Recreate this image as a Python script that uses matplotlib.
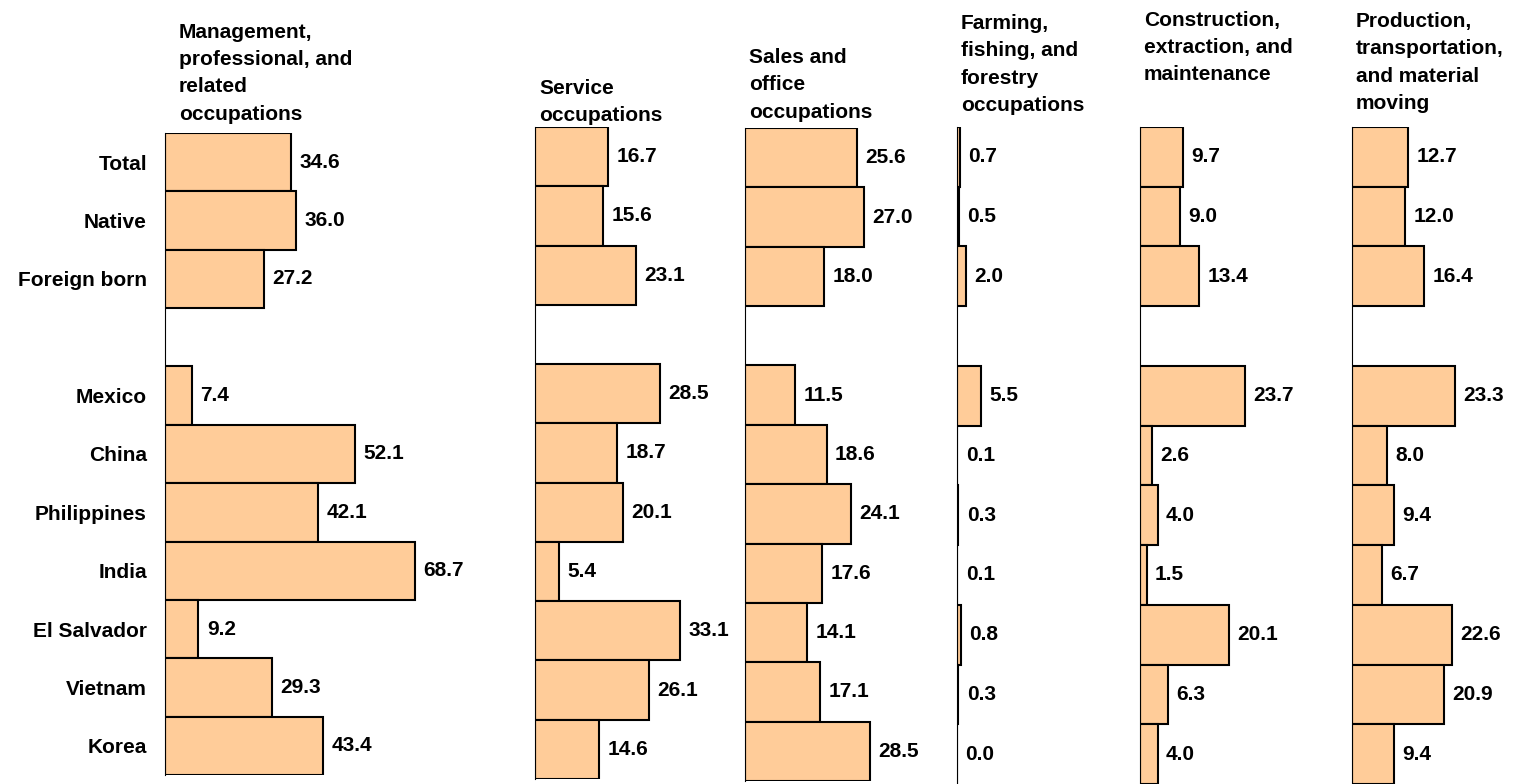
import matplotlib.pyplot as plt

plt.rcParams['font.family'] = ['Liberation Sans', 'DejaVu Sans']
plt.rcParams['font.weight'] = 'bold'

W, H = 1518, 784

# rows: three nativity groups, a blank spacer, then seven countries
row_labels = ['Total', 'Native', 'Foreign born', '',
              'Mexico', 'China', 'Philippines', 'India',
              'El Salvador', 'Vietnam', 'Korea']

titles = [
    'Management,\nprofessional, and\nrelated\noccupations',
    'Service\noccupations',
    'Sales and\noffice\noccupations',
    'Farming,\nfishing, and\nforestry\noccupations',
    'Construction,\nextraction, and\nmaintenance',
    'Production,\ntransportation,\nand material\nmoving',
]

management = [34.6, 36.0, 27.2, 7.4, 52.1, 42.1, 68.7, 9.2, 29.3, 43.4]
service = [16.7, 15.6, 23.1, 28.5, 18.7, 20.1, 5.4, 33.1, 26.1, 14.6]
sales = [25.6, 27.0, 18.0, 11.5, 18.6, 24.1, 17.6, 14.1, 17.1, 28.5]
farming = [0.7, 0.5, 2.0, 5.5, 0.1, 0.3, 0.1, 0.8, 0.3, 0.0]
construction = [9.7, 9.0, 13.4, 23.7, 2.6, 4.0, 1.5, 20.1, 6.3, 4.0]
production = [12.7, 12.0, 16.4, 23.3, 8.0, 9.4, 6.7, 22.6, 20.9, 9.4]

series = [management, service, sales, farming, construction, production]

# panel geometry in pixels: left, top, bottom, width, px per unit, title top
panels = [
    (165, 133, 775, 300, 3.64, 23),
    (535, 127, 779, 190, 4.38, 79),
    (745, 128, 781, 190, 4.39, 48),
    (957, 127, 784, 160, 4.40, 14),
    (1140, 127, 784, 190, 4.43, 11),
    (1352, 127, 784, 166, 4.42, 12),
]

fill = '#FFCC99'
fs = 15

fig = plt.figure(figsize=(W / 100, H / 100), dpi=100)

rows = [i for i, lab in enumerate(row_labels) if lab]

for k, (vals, title, geo) in enumerate(zip(series, titles, panels)):
    left, top, bottom, width, scale, ttop = geo
    ax = fig.add_axes([left / W, 1 - bottom / H, width / W, (bottom - top) / H])
    ax.barh(rows, vals, height=1.0, color=fill, edgecolor='black', linewidth=1.5)
    for y, v in zip(rows, vals):
        ax.annotate(f'{v:.1f}', (v, y), xytext=(6, 0), textcoords='offset points',
                    va='center', ha='left', fontsize=fs, fontweight='bold')
    ax.set_xlim(0, width / scale)
    ax.set_ylim(len(row_labels) - 0.5, -0.5)
    for s in ['top', 'right', 'bottom']:
        ax.spines[s].set_visible(False)
    ax.spines['left'].set_linewidth(0.8)
    ax.set_xticks([])
    if k == 0:
        ax.set_yticks(rows)
        ax.set_yticklabels([row_labels[i] for i in rows], fontsize=fs, fontweight='bold')
        ax.tick_params(axis='y', length=0, pad=13)
    else:
        ax.set_yticks([])
    fig.text((left + 14) / W if k == 0 else (left + 4) / W, 1 - ttop / H, title,
             ha='left', va='top', fontsize=fs, fontweight='bold', linespacing=1.55)

fig.savefig('out.png', dpi=100)
